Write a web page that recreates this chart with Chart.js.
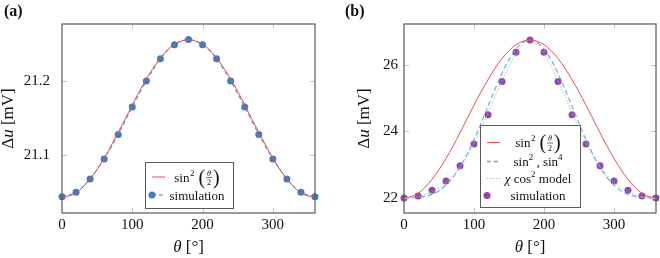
<!DOCTYPE html>
<html><head><meta charset="utf-8">
<script src="https://cdn.jsdelivr.net/npm/chart.js@4/dist/chart.umd.min.js"></script>
<style>
html,body{margin:0;padding:0;background:#fff;}
#wrap{width:660px;height:258px;display:flex;}
canvas{display:block;}
</style></head>
<body><div id="wrap"><canvas id="ca" width="330" height="258"></canvas><canvas id="cb" width="330" height="258"></canvas></div>
<script>
// ---- data ----
const thetaFine = [0,10,20,30,40,50,60,70,80,90,100,110,120,130,140,150,160,170,180,190,200,210,220,230,240,250,260,270,280,290,300,310,320,330,340,350,360];
const thetaSim = [0,20,40,60,80,100,120,140,160,180,200,220,240,260,280,300,320,340,360];
// panel (a)
const aSin2 = [21.043,21.045,21.049,21.057,21.068,21.081,21.096,21.113,21.131,21.149,21.168,21.186,21.203,21.218,21.231,21.242,21.250,21.254,21.256,21.254,21.250,21.242,21.231,21.218,21.203,21.186,21.168,21.149,21.131,21.113,21.096,21.081,21.068,21.057,21.049,21.045,21.043];
const aSim = [21.044,21.050,21.068,21.095,21.128,21.165,21.200,21.230,21.249,21.256,21.249,21.230,21.200,21.165,21.128,21.095,21.068,21.050,21.044];
const aYTicks = [21.1,21.2];
// panel (b)
const bSin2 = [22.00,22.04,22.14,22.32,22.56,22.85,23.19,23.56,23.96,24.38,24.79,25.19,25.56,25.90,26.19,26.43,26.61,26.71,26.75,26.71,26.61,26.43,26.19,25.90,25.56,25.19,24.79,24.38,23.96,23.56,23.19,22.85,22.56,22.32,22.14,22.04,22.00];
const bSin2Sin4 = [22.00,22.00,22.02,22.05,22.11,22.22,22.39,22.62,22.93,23.31,23.75,24.24,24.76,25.27,25.75,26.16,26.48,26.68,26.75,26.68,26.48,26.16,25.75,25.27,24.76,24.24,23.75,23.31,22.93,22.62,22.39,22.22,22.11,22.05,22.02,22.00,22.00];
const bChiCos2 = [22.00,22.01,22.04,22.10,22.19,22.31,22.47,22.68,22.94,23.26,23.64,24.08,24.56,25.05,25.53,25.97,26.34,26.62,26.75,26.62,26.34,25.97,25.53,25.05,24.56,24.08,23.64,23.26,22.94,22.68,22.47,22.31,22.19,22.10,22.04,22.01,22.00];
const bSim = [22.00,22.06,22.23,22.51,22.97,23.62,24.50,25.50,26.38,26.75,26.38,25.50,24.50,23.62,22.97,22.51,22.23,22.06,22.00];
const bYTicks = [22,24,26];
const xTicks = [0,100,200,300];

const SERIF = '"Liberation Serif","DejaVu Serif",serif';
const RED = '#ee4a4f', BLUE = '#3a7fc2', LBLUE = '#68a6e2', GREEN = '#80cf82', PURPLE = '#9645ad';
const FRAME = '#5a5a5a';

function pts(xs, ys){ return xs.map((x,i)=>({x:x,y:ys[i]})); }

function drawSinFrac(ctx, x, y){
  ctx.save();
  ctx.fillStyle = '#111';
  ctx.textBaseline = 'alphabetic';
  ctx.textAlign = 'left';
  ctx.font = '13px ' + SERIF;
  ctx.fillText('sin', x, y+4.5);
  let w = ctx.measureText('sin').width; x += w + 0.5;
  ctx.font = '9px ' + SERIF;
  ctx.fillText('2', x, y-1.5);
  x += ctx.measureText('2').width + 4;
  ctx.font = '20px ' + SERIF;
  ctx.fillText('(', x, y+6.5);
  x += ctx.measureText('(').width + 1;
  ctx.font = 'italic 8px ' + SERIF;
  const tw = ctx.measureText('θ').width;
  const fw = 6;
  ctx.fillText('θ', x + (fw-tw)/2, y-1.5);
  ctx.fillRect(x, y+0.2, fw, 0.6);
  ctx.font = '8px ' + SERIF;
  const dw = ctx.measureText('2').width;
  ctx.fillText('2', x + (fw-dw)/2, y+8);
  x += fw + 1;
  ctx.font = '20px ' + SERIF;
  ctx.fillText(')', x, y+6.5);
  ctx.restore();
  return x;
}
function sinFracWidth(ctx){
  ctx.save();
  ctx.font = '13px ' + SERIF; let w = ctx.measureText('sin').width + 0.5;
  ctx.font = '9px ' + SERIF; w += ctx.measureText('2').width + 4;
  ctx.font = '20px ' + SERIF; w += ctx.measureText('(').width*2 + 2;
  w += 6;
  ctx.restore();
  return w;
}

function drawSample(ctx, it, x0, x1, y){
  ctx.save();
  if (it.line){
    ctx.strokeStyle = it.color; ctx.lineWidth = it.width || 1;
    ctx.setLineDash(it.dash || []);
    ctx.beginPath(); ctx.moveTo(x0, y); ctx.lineTo(x1, y); ctx.stroke();
  }
  if (it.dot){
    ctx.setLineDash([]);
    ctx.fillStyle = it.dotColor || it.color;
    ctx.beginPath(); ctx.arc(x0, y, 3.5, 0, Math.PI*2); ctx.fill();
  }
  ctx.restore();
}

function drawLegend(ctx, L){
  ctx.save();
  ctx.fillStyle = '#fff';
  ctx.fillRect(L.x, L.y, L.w, L.h);
  ctx.strokeStyle = FRAME; ctx.lineWidth = 1;
  ctx.strokeRect(Math.round(L.x)+0.5, Math.round(L.y)+0.5, L.w, L.h);
  L.items.forEach((it, i)=>{
    const y = L.rows[i];
    drawSample(ctx, it, L.sx0, L.sx1, y);
    if (it.label === 'SINFRAC'){
      const w = sinFracWidth(ctx);
      drawSinFrac(ctx, L.tc - w/2, y);
    } else if (it.label === 'SIN2SIN4'){
      ctx.fillStyle = '#111'; ctx.textBaseline = 'alphabetic'; ctx.textAlign='left';
      const parts = [['13px ','sin',0],['9px ','2',-6],['13px ',' , ',0],['13px ','sin',0],['9px ','4',-6]];
      let tw = 0; parts.forEach(p=>{ctx.font=p[0]+SERIF; tw+=ctx.measureText(p[1]).width;});
      let x = L.tc - tw/2;
      parts.forEach(p=>{ctx.font=p[0]+SERIF; ctx.fillText(p[1], x, y+4.5+p[2]); x+=ctx.measureText(p[1]).width;});
    } else if (it.label === 'CHICOS2'){
      ctx.fillStyle = '#111'; ctx.textBaseline = 'alphabetic'; ctx.textAlign='left';
      const parts = [['italic 13px ','χ',0],['13px ',' cos',0],['9px ','2',-6],['13px ',' model',0]];
      let tw = 0; parts.forEach(p=>{ctx.font=p[0]+SERIF; tw+=ctx.measureText(p[1]).width;});
      let x = L.tc - tw/2;
      parts.forEach(p=>{ctx.font=p[0]+SERIF; ctx.fillText(p[1], x, y+4.5+p[2]); x+=ctx.measureText(p[1]).width;});
    } else {
      ctx.fillStyle = '#111'; ctx.font = '13px ' + SERIF;
      ctx.textAlign = 'center'; ctx.textBaseline = 'alphabetic';
      ctx.fillText(it.label, L.tc, y+4.5);
    }
  });
  ctx.restore();
}

const deco = {
  id: 'deco',
  afterDatasetsDraw(chart, args, opts){
    const ctx = chart.ctx, a = chart.chartArea;
    const xs = chart.scales.x, ys = chart.scales.y;
    ctx.save();
    ctx.strokeStyle = '#c4c4c4'; ctx.lineWidth = 1;
    opts.xt.forEach(v=>{
      const px = Math.round(xs.getPixelForValue(v))+0.5;
      if (px < a.left+2) return;
      ctx.beginPath(); ctx.moveTo(px, a.bottom); ctx.lineTo(px, a.bottom-5);
      ctx.moveTo(px, a.top); ctx.lineTo(px, a.top+5); ctx.stroke();
    });
    opts.yt.forEach(v=>{
      const py = Math.round(ys.getPixelForValue(v))+0.5;
      ctx.beginPath(); ctx.moveTo(a.left, py); ctx.lineTo(a.left+5, py);
      ctx.moveTo(a.right, py); ctx.lineTo(a.right-5, py); ctx.stroke();
    });
    ctx.strokeStyle = FRAME; ctx.lineWidth = 1.2;
    ctx.strokeRect(a.left, a.top, a.right-a.left, a.bottom-a.top);
    ctx.restore();
    drawLegend(ctx, opts.legend);
    ctx.save();
    ctx.fillStyle = '#111'; ctx.textBaseline = 'middle';
    ctx.font = 'italic 17px ' + SERIF;
    const t1 = 'θ', t2 = ' [°]';
    const w1 = ctx.measureText(t1).width;
    ctx.font = '17px ' + SERIF;
    const w2 = ctx.measureText(t2).width;
    const cx = (a.left + a.right)/2;
    let x = cx - (w1+w2)/2;
    ctx.textAlign = 'left';
    ctx.font = 'italic 17px ' + SERIF; ctx.fillText(t1, x, 248);
    ctx.font = '17px ' + SERIF; ctx.fillText(t2, x+w1, 248);
    ctx.translate(opts.ytx, (a.top+a.bottom)/2);
    ctx.rotate(-Math.PI/2);
    const p = [['17px ','Δ'],['italic 17px ','u'],['17px ',' [mV]']];
    let tw = 0; p.forEach(q=>{ctx.font=q[0]+SERIF; tw+=ctx.measureText(q[1]).width;});
    let xx = -tw/2;
    p.forEach(q=>{ctx.font=q[0]+SERIF; ctx.fillText(q[1], xx, 0); xx+=ctx.measureText(q[1]).width;});
    ctx.restore();
    ctx.save();
    ctx.fillStyle = '#111'; ctx.font = 'bold 16px ' + SERIF;
    ctx.textAlign = 'left'; ctx.textBaseline = 'middle';
    ctx.fillText(opts.panel, opts.px, 12);
    ctx.restore();
  }
};

function makeChart(id, cfg){
  return new Chart(document.getElementById(id), {
    type: 'line',
    data: { datasets: cfg.datasets },
    options: {
      responsive: false, animation: false, devicePixelRatio: 1,
      layout: { padding: { left: 0, top: 24, right: cfg.rightPad, bottom: 0 } },
      plugins: { legend: { display: false }, tooltip: { enabled: false },
        deco: { xt: xTicks, yt: cfg.yTicks, legend: cfg.legend, ytx: cfg.ytx, panel: cfg.panel, px: cfg.px } },
      scales: {
        x: { type: 'linear', min: 0, max: 360,
          grid: { display: false, drawTicks: false }, border: { display: false },
          afterBuildTicks: s => { s.ticks = xTicks.map(v=>({value:v})); },
          afterFit: s => { s.height = 45; },
          ticks: { padding: 3, color: '#111', font: { family: SERIF, size: 15 }, maxRotation: 0 } },
        y: { type: 'linear', min: cfg.ymin, max: cfg.ymax,
          grid: { display: false, drawTicks: false }, border: { display: false },
          afterBuildTicks: s => { s.ticks = cfg.yTicks.map(v=>({value:v})); },
          afterFit: s => { s.width = cfg.yw; },
          ticks: { padding: cfg.ypad, color: '#111', font: { family: SERIF, size: 15 },
            callback: v => cfg.fmt(v) } }
      }
    },
    plugins: [deco]
  });
}

makeChart('ca', {
  panel: '(a)', px: 4, ytx: 9, yw: 62, rightPad: 15, ypad: 12,
  ymin: 21.022, ymax: 21.277, yTicks: aYTicks, fmt: v => v.toFixed(1),
  datasets: [
    { data: pts(thetaFine, aSin2), borderColor: RED, borderWidth: 1, pointRadius: 0, cubicInterpolationMode: 'monotone', clip: false },
    { data: pts(thetaSim, aSim), borderColor: BLUE, backgroundColor: BLUE, borderWidth: 1, borderDash: [4,3], pointRadius: 3.5, pointBorderWidth: 0, pointBackgroundColor: BLUE, cubicInterpolationMode: 'monotone', clip: false }
  ],
  legend: { x: 145, y: 162, w: 88, h: 46, rows: [177, 195], sx0: 152, sx1: 165, tc: 197,
    items: [ { line: true, color: RED, label: 'SINFRAC' },
             { line: true, dot: true, color: BLUE, dash: [4,3], label: 'simulation' } ] }
});

makeChart('cb', {
  panel: '(b)', px: 15, ytx: 35, yw: 74, rightPad: 2, ypad: 6,
  ymin: 21.55, ymax: 27.23, yTicks: bYTicks, fmt: v => String(v),
  datasets: [
    { data: pts(thetaFine, bSin2), borderColor: RED, borderWidth: 1, pointRadius: 0, cubicInterpolationMode: 'monotone', clip: false },
    { data: pts(thetaFine, bSin2Sin4), borderColor: LBLUE, borderWidth: 1.1, borderDash: [5,3], pointRadius: 0, cubicInterpolationMode: 'monotone', clip: false },
    { data: pts(thetaFine, bChiCos2), borderColor: GREEN, borderWidth: 1, borderDash: [1.2,1.8], pointRadius: 0, cubicInterpolationMode: 'monotone', clip: false },
    { data: pts(thetaSim, bSim), showLine: false, borderColor: PURPLE, backgroundColor: PURPLE, pointRadius: 3.5, pointBorderWidth: 0, pointBackgroundColor: PURPLE, clip: false }
  ],
  legend: { x: 150, y: 125, w: 100, h: 82, rows: [142.5, 161.5, 178.5, 195.5], sx0: 157, sx1: 170, tc: 208,
    items: [ { line: true, color: RED, label: 'SINFRAC' },
             { line: true, color: LBLUE, width: 1.3, dash: [4,3], label: 'SIN2SIN4' },
             { line: true, color: GREEN, width: 1.2, dash: [1.2,1.8], label: 'CHICOS2' },
             { dot: true, color: PURPLE, label: 'simulation' } ] }
});
</script>
</body></html>
